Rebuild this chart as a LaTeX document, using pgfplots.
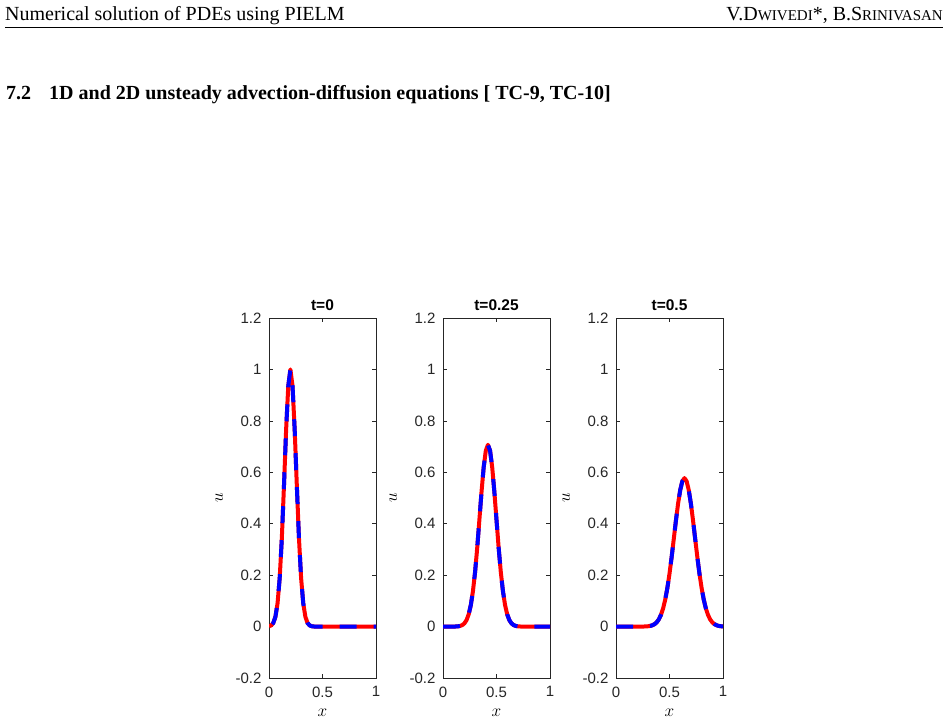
\documentclass[border=0pt]{standalone}
\usepackage{pgfplots}
\pgfplotsset{compat=1.18}
\usepackage{pgfplotstable}
\usepackage{fontspec}
\setmainfont{Liberation Serif}
\setsansfont{Liberation Sans}

\pgfplotstableread{
x u
0.00 0.00127
0.02 0.00452
0.04 0.01404
0.06 0.0381
0.08 0.0907
0.10 0.1889
0.12 0.3442
0.14 0.5488
0.16 0.7659
0.18 0.9355
0.20 1.0000
0.22 0.9355
0.24 0.7659
0.26 0.5488
0.28 0.3442
0.30 0.1889
0.32 0.0907
0.34 0.0381
0.36 0.01404
0.38 0.00452
0.40 0.00127
0.42 0.00031
0.44 0.00007
0.46 0
0.50 0
0.60 0
0.70 0
0.80 0
0.90 0
1.00 0
}\tA

\pgfplotstableread{
x u
0.00 0
0.04 0
0.08 0
0.10 0
0.12 0.00039
0.14 0.00103
0.16 0.00253
0.18 0.00582
0.20 0.01254
0.22 0.02522
0.24 0.04752
0.26 0.0837
0.28 0.1381
0.30 0.2130
0.32 0.3073
0.34 0.4148
0.36 0.5238
0.38 0.6188
0.40 0.6839
0.42 0.7071
0.44 0.6839
0.46 0.6188
0.48 0.5238
0.50 0.4148
0.52 0.3073
0.54 0.2130
0.56 0.1381
0.58 0.0837
0.60 0.04752
0.62 0.02522
0.64 0.01254
0.66 0.00582
0.68 0.00253
0.70 0.00103
0.72 0.00039
0.74 0
0.80 0
0.90 0
1.00 0
}\tB

\pgfplotstableread{
x u
0.00 0
0.10 0
0.20 0
0.24 0
0.26 0.00029
0.28 0.00063
0.30 0.00132
0.32 0.00264
0.34 0.00506
0.36 0.00932
0.38 0.01646
0.40 0.02785
0.42 0.0452
0.44 0.0703
0.46 0.1049
0.48 0.1501
0.50 0.2058
0.52 0.2706
0.54 0.3411
0.56 0.4123
0.58 0.4777
0.60 0.5307
0.62 0.5654
0.64 0.5774
0.66 0.5654
0.68 0.5307
0.70 0.4777
0.72 0.4123
0.74 0.3411
0.76 0.2706
0.78 0.2058
0.80 0.1501
0.82 0.1049
0.84 0.0703
0.86 0.0452
0.88 0.02785
0.90 0.01646
0.92 0.00932
0.94 0.00506
0.96 0.00264
0.98 0.00132
1.00 0.00063
}\tC

\definecolor{axgray}{gray}{0.15}
\pgfplotsset{
  panel/.style={
    scale only axis, width=107pt, height=360pt,
    xmin=0, xmax=1, ymin=-0.2, ymax=1.2,
    xtick={0,0.5,1}, ytick={-0.2,0,0.2,0.4,0.6,0.8,1,1.2},
    tick align=inside, major tick length=4pt,
    axis line style={color=axgray, line width=0.7pt},
    tick style={color=axgray, line width=0.7pt},
    /pgf/number format/assume math mode=true,
    ticklabel style={font=\fontsize{15}{15}\sffamily\selectfont, text=axgray},
    yticklabel style={xshift=-4pt},
    xticklabel style={yshift=-5pt},
    title style={font=\fontsize{15.5}{15.5}\sffamily\bfseries\selectfont, yshift=-2pt},
    xlabel={$x$}, ylabel={$u$},
    every axis y label/.style={at={(axis description cs:-0.467,0.5)}, rotate=90, anchor=center, font=\fontsize{16}{16}\selectfont},
    every axis x label/.style={at={(axis description cs:0.5,-0.0972)}, anchor=center, font=\fontsize{16}{16}\selectfont},
    clip=true,
  },
  exact/.style={color=red, line width=4pt, solid, line join=round},
  pielm/.style={color=blue, line width=4pt, dash pattern=on 17pt off 17pt, line join=round},
}

\begin{document}
\begin{tikzpicture}[x=1pt,y=1pt]
\useasboundingbox (0,0) rectangle (948,-724);
\node[anchor=base west, inner sep=0, font=\fontsize{20}{20}\selectfont] at (5,-20) {Numerical solution of PDEs using PIELM};
\node[anchor=base east, inner sep=0, font=\fontsize{20}{20}\selectfont] at (943,-20) {V.D{\fontsize{15}{15}\selectfont WIVEDI}*, B.S{\fontsize{15}{15}\selectfont RINIVASAN}};
\draw[line width=1pt] (5,-27) -- (943,-27);
\node[anchor=base west, inner sep=0, font=\bfseries\fontsize{20}{20}\selectfont] at (6,-99) {7.2\hspace{18pt}1D and 2D unsteady advection-diffusion equations [ TC-9, TC-10]};

\begin{axis}[panel, at={(269pt,-678pt)}, anchor=south west, title={t=0}]
\addplot[exact] table[x=x,y=u] {\tA};
\addplot[pielm, dash phase=30pt] table[x=x,y=u] {\tA};
\end{axis}
\begin{axis}[panel, at={(443pt,-678pt)}, anchor=south west, title={t=0.25}]
\addplot[exact] table[x=x,y=u] {\tB};
\addplot[pielm] table[x=x,y=u] {\tB};
\end{axis}
\begin{axis}[panel, at={(616pt,-678pt)}, anchor=south west, title={t=0.5}]
\addplot[exact] table[x=x,y=u] {\tC};
\addplot[pielm] table[x=x,y=u] {\tC};
\end{axis}
\end{tikzpicture}
\end{document}
